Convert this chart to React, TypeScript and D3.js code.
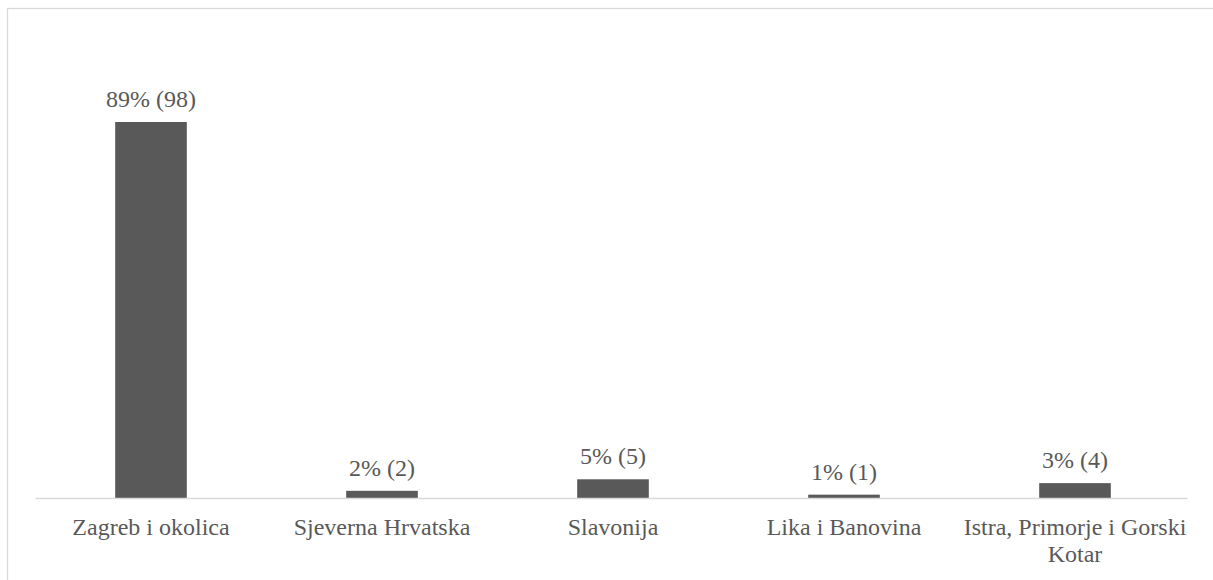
import React from "react";
import * as d3 from "d3";

const categories: string[] = [
  "Zagreb i okolica",
  "Sjeverna Hrvatska",
  "Slavonija",
  "Lika i Banovina",
  "Istra, Primorje i Gorski Kotar",
];
const counts: number[] = [98, 2, 5, 1, 4];
const percents: string[] = ["89%", "2%", "5%", "1%", "3%"];
const yTicks: number[] = [0, 20, 40, 60, 80, 100, 120];

const W = 1213;
const H = 580;
const FONT = "Liberation Serif";
const FS = 24;
const TEXT = "#595959";

function wrap(text: string, maxW: number): string[] {
  const canvas = document.createElement("canvas");
  const ctx = canvas.getContext("2d")!;
  ctx.font = `${FS}px "${FONT}"`;
  const words = text.split(" ");
  const lines: string[] = [];
  let cur = "";
  for (const w of words) {
    const t = cur ? cur + " " + w : w;
    if (ctx.measureText(t).width > maxW && cur) {
      lines.push(cur);
      cur = w;
    } else cur = t;
  }
  if (cur) lines.push(cur);
  return lines;
}

export default function App() {
  const left = 35.5;
  const right = 1190.5;
  const top = 37.5;
  const bottom = 498.5;
  const x = d3.scaleBand<string>().domain(categories).range([left, right]).paddingInner(0.69).paddingOuter(0.345);
  const y = d3.scaleLinear().domain([0, d3.max(yTicks)!]).range([bottom, top]);
  const step = x.step();

  return (
    <svg width={W} height={H} style={{ position: "absolute", left: 0, top: 0, background: "#fff" }}>
      <rect x={7.5} y={8.5} width={W + 10} height={H + 10} fill="#fff" stroke="#d9d9d9" strokeWidth={1.3} />
      {categories.map((c, i) => (
        <rect key={c} x={x(c)!} y={y(counts[i])} width={x.bandwidth()} height={y(0) - y(counts[i])} fill="#595959" />
      ))}
      <line x1={left} x2={right - 3} y1={y(0)} y2={y(0)} stroke="#d9d9d9" strokeWidth={1.3} />
      {categories.map((c, i) => (
        <text
          key={"l" + c}
          x={x(c)! + x.bandwidth() / 2}
          y={y(counts[i]) - 15}
          textAnchor="middle"
          style={{ fontFamily: FONT, fontSize: FS }}
          fill={TEXT}
        >
          {`${percents[i]} (${counts[i]})`}
        </text>
      ))}
      {categories.map((c) => {
        const lines = wrap(c, step - 6);
        return (
          <text key={"c" + c} textAnchor="middle" style={{ fontFamily: FONT, fontSize: FS }} fill={TEXT}>
            {lines.map((ln, j) => (
              <tspan key={j} x={x(c)! + x.bandwidth() / 2} y={535 + j * 27}>
                {ln}
              </tspan>
            ))}
          </text>
        );
      })}
    </svg>
  );
}
